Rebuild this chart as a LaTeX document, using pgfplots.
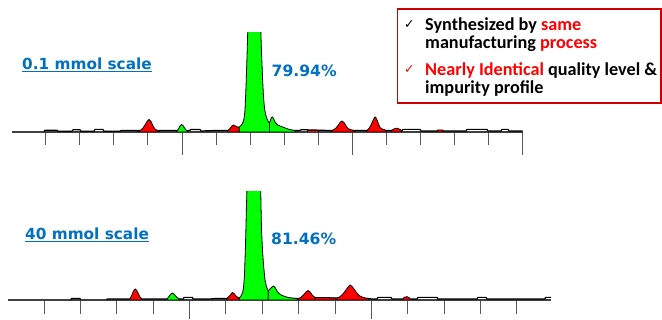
\documentclass[border=0pt]{standalone}
\usepackage{fontspec}
\usepackage{pgfplots}
\pgfplotsset{compat=1.18}
\newfontfamily\verdfont{DejaVu Sans}
\newfontfamily\carlfont{Carlito}
\definecolor{ttblue}{HTML}{0070C0}
\definecolor{pkgreen}{HTML}{00FF00}
\definecolor{pkred}{HTML}{FF0000}
\definecolor{boxred}{HTML}{CC0000}
\pgfplotsset{
  chrom/.style={
    scale only axis, anchor=south west,
    axis x line=bottom, axis y line=none,
    axis line style={-, draw=black!75, line width=1.2pt},
    xticklabels={}, tick align=outside,
    tick style={draw=black!65, line width=1pt},
    minor tick style={draw=black!65, line width=1pt},
    ymin=0, clip=true,
  },
  pk/.style={draw=black, line width=0.8pt, line join=round, fill=#1},
  tr/.style={draw=black, line width=1.2pt, line join=round},
}
\begin{document}
\begin{tikzpicture}[x=1pt,y=1pt]
\path[use as bounding box] (0,0) rectangle (662,320);

% ---------- top chromatogram (0.1 mmol) ----------
\begin{axis}[chrom,
  at={(12pt,188pt)}, width=510.7pt, height=99pt,
  xmin=12, xmax=522.7, ymax=99,
  xtick={182,352.3,522.7},
  minor xtick={45.7,79.8,113.8,147.9,216,250.1,284.2,318.3,386.4,420.5,454.5,488.6},
  major tick length=23pt, minor tick length=13pt]
\addplot[tr] coordinates {(44,0.5)(45,1.8)(57,1.8)(58,0.8)(72,0.8)(73,2.2)(80,2.2)(81,0.8)(94,0.8)(95,2.6)(103,2.6)(104,0.8)(120,0.8)(121,1.5)(190,1.5)(190.5,2.5)(200,2.5)(201,1)(215,1.5)(300,1.5)(301,2.2)(306,2.2)(330,1.5)(402,1.5)(403,2.6)(420,2.6)(421,1)(466,1)(467,2.6)(487,2.6)(488,1)(501,1)(502,2.6)(508,2.6)(509,1)(522.7,1)};
\addplot[pk=pkred] coordinates {(137,0)(139,1)(141,2)(143,4)(145,7)(147,10.5)(149,12.5)(151,10.5)(153,6)(155,3)(157,1.5)(159,0.8)(160,0)} \closedcycle;
\addplot[pk=pkgreen] coordinates {(176,0)(177,1)(178.5,3)(180,6)(181.5,7.5)(183,6.5)(184.5,4)(186,2)(187.5,1)(188,0)} \closedcycle;
\addplot[pk=pkred] coordinates {(228,0)(228,1.5)(230,3.5)(232,6)(233.5,7)(235.5,6)(237.5,5)(239.3,5)(239.3,0)} \closedcycle;
\addplot[pk=pkgreen] coordinates {(239.3,0)(239.3,5)(241,6.5)(242.5,8.5)(244,13)(245,22)(246,45)(247,75)(248,110)(249.5,150)(254,175)(259,150)(260.5,110)(261.5,80)(262.5,55)(263.5,35)(264.5,24)(265.5,18)(267,13)(268.5,10)(269.5,9)(269.5,0)} \closedcycle;
\addplot[pk=pkgreen] coordinates {(269.5,0)(269.5,9)(270.5,12)(271.5,14.5)(272.5,15)(273.5,13.5)(275,10)(277,7.5)(280,6)(284,4.5)(288,3)(292,2)(295,1.5)(296,0)} \closedcycle;
\addplot[pk=pkred] coordinates {(307,0)(307,2)(318,2)(318,0)} \closedcycle;
\addplot[pk=pkred] coordinates {(331,0)(332,1.5)(334,2.5)(336,4)(338,6.5)(340,9.5)(342,11)(344,9.5)(346,6)(348,3.5)(350,2.5)(352,2)(354,1.5)(355,0)} \closedcycle;
\addplot[pk=pkred] coordinates {(366,0)(367,1.5)(369,3.5)(371,7)(373,11.5)(374.5,14.5)(375.5,15)(377,12)(378.5,8)(380,4.5)(382,3)(384,2.5)(386,1.5)(387,0)} \closedcycle;
\addplot[pk=pkred] coordinates {(391,0)(392,2)(395,3.5)(397,3.8)(399,3)(401,2)(402,0)} \closedcycle;
\addplot[pk=pkred] coordinates {(437,0)(437.5,2)(443,2)(443.5,0)} \closedcycle;
\end{axis}

% ---------- bottom chromatogram (40 mmol) ----------
\begin{axis}[chrom,
  at={(8pt,20pt)}, width=543pt, height=108pt,
  xmin=8, xmax=551, ymax=108,
  xtick={189.5,371.4},
  minor xtick={44,80.4,116.8,153.1,225.9,262.3,298.7,335,407.8,444.2,480.6,516.9},
  major tick length=19.5pt, minor tick length=14pt]
\addplot[tr] coordinates {(71,0)(71.5,1.6)(80,1.6)(80.5,0)};
\addplot[tr] coordinates {(106.7,0)(107,1)(183.5,1)(184,2.6)(192.5,2.6)(193,1)(210,1)(215,1.5)(300,1.5)(315,2.3)(336,2)(369,1.5)(372,1)(377,1)(378,2.6)(391,2.6)(392,1)(417,1)(418,2.6)(437,2.6)(438,1)(477,1)(478,2.6)(486,2.6)(487,1)(545,1)(545.5,2.6)(551,2.6)};
\addplot[pk=pkred] coordinates {(129,0)(130,1.5)(131.5,4)(133,8)(134.5,10.5)(135.5,11)(137,9)(138.5,6)(140,3)(141.5,1.5)(142.5,0)} \closedcycle;
\addplot[pk=pkgreen] coordinates {(166.5,0)(167.5,1.5)(169,3.5)(170.5,5.5)(172.3,7)(174,6)(175.5,4)(177,2.5)(178.5,1.5)(179.5,0)} \closedcycle;
\addplot[pk=pkred] coordinates {(226.5,0)(227,1.5)(229,3.5)(231,6)(232.5,7.5)(234,6.5)(236,4)(238,2.5)(239.3,2)(239.3,0)} \closedcycle;
\addplot[pk=pkgreen] coordinates {(239.3,0)(239.3,2)(241,4)(242.5,7)(243.5,12)(244.5,25)(245.5,55)(246.5,95)(247.5,130)(249,160)(254,180)(259,160)(260.5,120)(261.5,70)(262.5,50)(263.5,35)(265,20)(266.5,13)(268.3,9)(268.3,0)} \closedcycle;
\addplot[pk=pkgreen] coordinates {(268.3,0)(268.3,9)(270,11)(272,13)(273.5,14)(275,12.5)(277,9)(279,6.5)(282,4.5)(285,3.5)(288,2.5)(292,2)(297,1.5)(298,0)} \closedcycle;
\addplot[pk=pkred] coordinates {(298,0)(298.5,1.5)(301,2.5)(303.5,5)(306,8)(308.3,9.5)(310.5,7.5)(312.5,4.5)(314.5,3)(315,2.5)(315,0)} \closedcycle;
\addplot[pk=pkred] coordinates {(315,0)(315,2.5)(335,2)(336.5,0)} \closedcycle;
\addplot[pk=pkred] coordinates {(336.5,0)(337,2)(339.5,3)(342,5)(344.5,8)(347,11.5)(349,14)(350.3,15)(352,13.5)(354,11)(356.5,7.5)(359,4.5)(362,3)(365,2)(368.5,1.5)(369,0)} \closedcycle;
\addplot[pk=pkred] coordinates {(403,0)(403.5,2)(405,3)(407.5,3.2)(409.5,2)(410,0)} \closedcycle;
\end{axis}

% ---------- labels ----------
\node[anchor=base west, inner sep=0pt, text=ttblue, font=\verdfont\bfseries\fontsize{15.3}{18}\selectfont] at (22,250) {\underline{0.1 mmol scale}};
\node[anchor=base west, inner sep=0pt, text=ttblue, font=\verdfont\bfseries\fontsize{15.6}{18}\selectfont] at (271.5,243) {79.94\%};
\node[anchor=base west, inner sep=0pt, text=ttblue, font=\verdfont\bfseries\fontsize{15.3}{18}\selectfont] at (25,80.7) {\underline{40 mmol scale}};
\node[anchor=base west, inner sep=0pt, text=ttblue, font=\verdfont\bfseries\fontsize{15.6}{18}\selectfont] at (271,75.5) {81.46\%};

% ---------- box ----------
\draw[boxred, line width=1.8pt] (397.5,311) rectangle (661,217);
\node[anchor=base west, inner sep=0pt, font=\verdfont\fontsize{12.5}{14}\selectfont] at (404,291) {✓};
\node[anchor=base west, inner sep=0pt, text=pkred, font=\verdfont\fontsize{12.5}{14}\selectfont] at (404,246) {✓};
\node[anchor=base west, inner sep=0pt, font=\carlfont\bfseries\fontsize{18.2}{20}\selectfont] at (425,289.3) {Synthesized by \textcolor{pkred}{same}};
\node[anchor=base west, inner sep=0pt, font=\carlfont\bfseries\fontsize{18.2}{20}\selectfont] at (425,271.7) {manufacturing \textcolor{pkred}{process}};
\node[anchor=base west, inner sep=0pt, font=\carlfont\bfseries\fontsize{18.2}{20}\selectfont] at (425,244) {\textcolor{pkred}{Nearly Identical} quality level \&};
\node[anchor=base west, inner sep=0pt, font=\carlfont\bfseries\fontsize{18.2}{20}\selectfont] at (425,226) {impurity profile};
\end{tikzpicture}
\end{document}
